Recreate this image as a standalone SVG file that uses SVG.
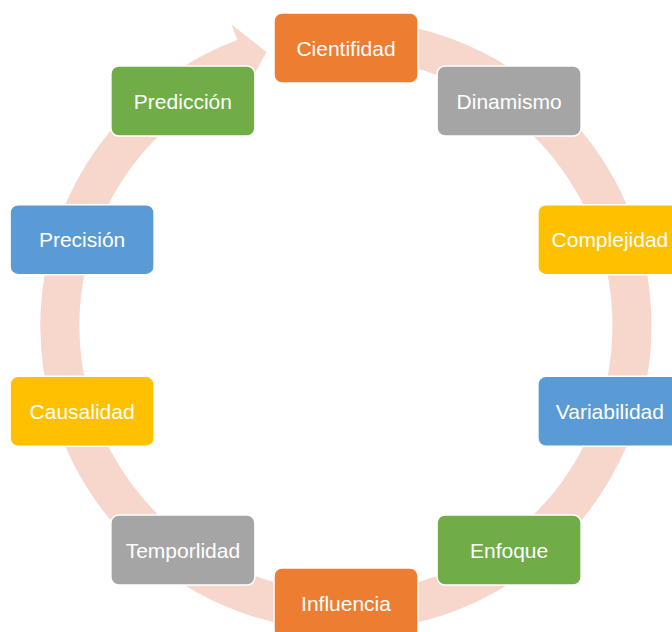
<svg xmlns="http://www.w3.org/2000/svg" width="672" height="632" viewBox="0 0 672 632">
<style>
.node rect{stroke:#ffffff;stroke-width:1.5}
.node text{font-family:"Liberation Sans",Arial,sans-serif;font-size:21px;fill:#ffffff;text-anchor:middle}
.orange{fill:#ED7D31}.gray{fill:#A5A5A5}.yellow{fill:#FFC000}.blue{fill:#5B9BD5}.green{fill:#70AD47}
.ring{fill:none;stroke:#F7D6CC;stroke-width:39}
</style>
<rect width="672" height="632" fill="#ffffff"/>
<g id="connectors">
<path class="ring" d="M 346 39.5 A 286 286 0 1 1 245.8 57.6"/>
<polygon points="231.5,24.5 266.5,52 252.5,77.5 244,58" fill="#F7D6CC"/>
</g>
<g id="n0" class="node"><rect class="orange" x="274" y="13" width="144" height="70" rx="8"/><text x="346" y="55.5">Cientifidad</text></g>
<g id="n1" class="node"><rect class="gray" x="437.1" y="66" width="144" height="70" rx="8"/><text x="509.1" y="108.5">Dinamismo</text></g>
<g id="n2" class="node"><rect class="yellow" x="537.9" y="204.7" width="144" height="70" rx="8"/><text x="609.9" y="247.2">Complejidad</text></g>
<g id="n3" class="node"><rect class="blue" x="537.9" y="376.3" width="144" height="70" rx="8"/><text x="609.9" y="418.8">Variabilidad</text></g>
<g id="n4" class="node"><rect class="green" x="437.1" y="515" width="144" height="70" rx="8"/><text x="509.1" y="557.5">Enfoque</text></g>
<g id="n5" class="node"><rect class="orange" x="274" y="568" width="144" height="70" rx="8"/><text x="346" y="610.5">Influencia</text></g>
<g id="n6" class="node"><rect class="gray" x="110.9" y="515" width="144" height="70" rx="8"/><text x="182.9" y="557.5">Temporlidad</text></g>
<g id="n7" class="node"><rect class="yellow" x="10.1" y="376.3" width="144" height="70" rx="8"/><text x="82.1" y="418.8">Causalidad</text></g>
<g id="n8" class="node"><rect class="blue" x="10.1" y="204.7" width="144" height="70" rx="8"/><text x="82.1" y="247.2">Precisión</text></g>
<g id="n9" class="node"><rect class="green" x="110.9" y="66" width="144" height="70" rx="8"/><text x="182.9" y="108.5">Predicción</text></g>
</svg>
